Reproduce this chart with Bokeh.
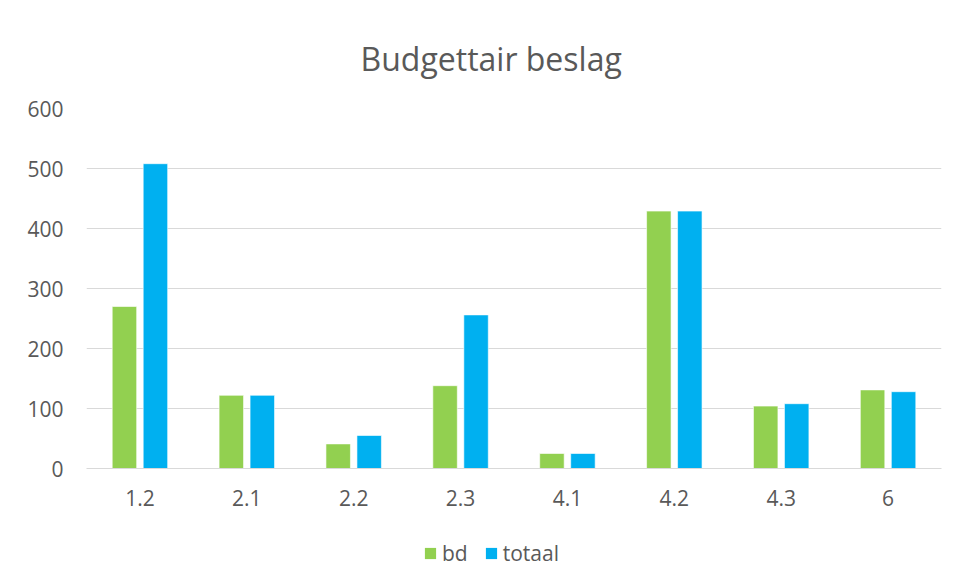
from bokeh.plotting import figure
from bokeh.layouts import column
from bokeh.models import ColumnDataSource, Legend, LegendItem, FactorRange, Range1d, FixedTicker
from bokeh.transform import dodge
from bokeh.embed import file_html
from bokeh.resources import INLINE

categories = ["1.2", "2.1", "2.2", "2.3", "4.1", "4.2", "4.3", "6"]
bd = [270, 122, 41, 138, 25, 429, 104, 131]
totaal = [508, 122, 55, 256, 25, 429, 108, 128]
y_ticks = [0, 100, 200, 300, 400, 500, 600]
series_names = ["bd", "totaal"]

GREEN = "#92D050"
BLUE = "#00B0F0"
TXT = "#595959"
FONT = "Open Sans"

src = ColumnDataSource(dict(cat=categories, bd=bd, totaal=totaal))
xr = FactorRange(*categories, range_padding=0)

p = figure(x_range=xr, y_range=Range1d(0, 600),
           width=943, height=522, output_backend="svg", toolbar_location=None,
           min_border_left=86, min_border_right=2, min_border_top=108, min_border_bottom=54)

p.vbar(x=dodge("cat", -0.145, range=xr), top="bd", width=0.229, source=src,
       fill_color=GREEN, line_color="white", line_width=0.6)
p.vbar(x=dodge("cat", 0.145, range=xr), top="totaal", width=0.229, source=src,
       fill_color=BLUE, line_color="white", line_width=0.6)

p.title.text = "Budgettair beslag"
p.title.align = "left"
p.title.offset = 274
p.title.text_font = FONT
p.title.text_font_size = "32px"
p.title.text_font_style = "normal"
p.title.text_color = TXT
p.title.standoff = 57

p.outline_line_color = None
p.border_fill_color = "white"

p.xgrid.grid_line_color = None
p.ygrid.grid_line_color = "#d9d9d9"
p.ygrid.grid_line_width = 1
p.yaxis.ticker = FixedTicker(ticks=y_ticks)

for ax in (p.xaxis[0], p.yaxis[0]):
    ax.major_tick_line_color = None
    ax.minor_tick_line_color = None
    ax.major_label_text_font = FONT
    ax.major_label_text_font_size = "21px"
    ax.major_label_text_color = TXT
p.yaxis.axis_line_color = None
p.xaxis.axis_line_color = "#d9d9d9"
p.xaxis.major_label_standoff = 15
p.yaxis.major_label_standoff = 17

# legend strip below the chart (same series, drawn outside its visible y window)
lg = figure(x_range=xr, y_range=Range1d(1000, 1001), width=943, height=46,
            output_backend="svg", toolbar_location=None,
            min_border_left=0, min_border_right=0, min_border_top=0, min_border_bottom=0)
lg.axis.visible = False
lg.grid.visible = False
lg.outline_line_color = None
g1 = lg.vbar(x=dodge("cat", -0.145, range=xr), top="bd", width=0.229, source=src,
             fill_color=GREEN, line_color=None)
g2 = lg.vbar(x=dodge("cat", 0.145, range=xr), top="totaal", width=0.229, source=src,
             fill_color=BLUE, line_color=None)
legend = Legend(items=[LegendItem(label=series_names[0], renderers=[g1]),
                       LegendItem(label=series_names[1], renderers=[g2])],
                orientation="horizontal", location=(337, 1),
                label_text_font=FONT, label_text_font_size="21px", label_text_color=TXT,
                glyph_width=14, glyph_height=14, spacing=16, label_standoff=5,
                label_height=20, border_line_color=None, background_fill_alpha=0,
                padding=4, margin=0)
lg.add_layout(legend)

layout = column(p, lg, spacing=0)
open("out.html", "w").write(file_html(layout, INLINE))
